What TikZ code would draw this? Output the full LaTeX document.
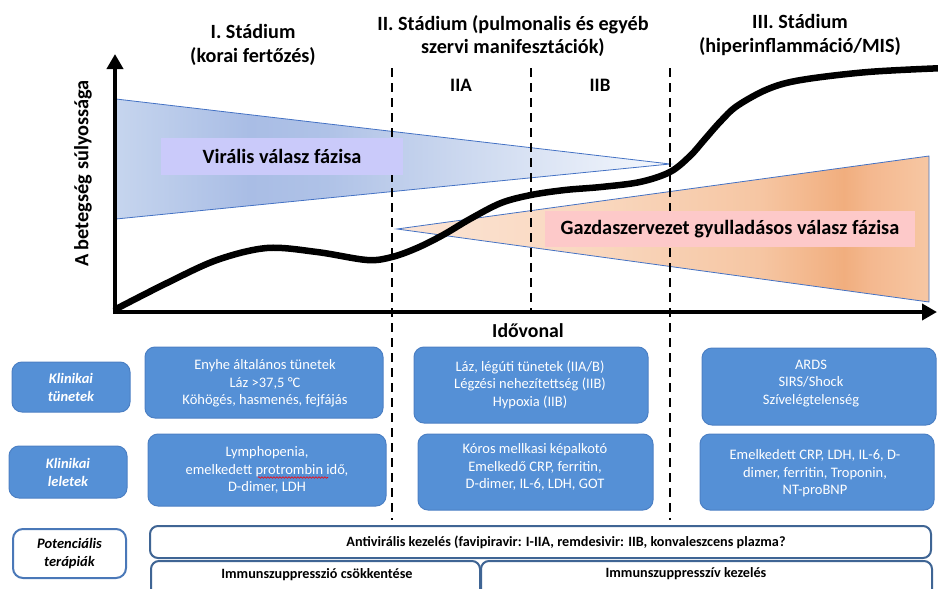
\documentclass[tikz,border=0pt]{standalone}
\usepackage{fontspec}
\setmainfont{Carlito}
\usetikzlibrary{arrows.meta,decorations.pathmorphing,calc}
\definecolor{vA}{HTML}{C6D5EE}
\definecolor{vB}{HTML}{A9BDE5}
\definecolor{vB2}{HTML}{AFC2E7}
\definecolor{vC}{HTML}{C9D6EE}
\definecolor{vD}{HTML}{F5F8FD}
\definecolor{oA}{HTML}{FBE4D5}
\definecolor{oB}{HTML}{F9D7BE}
\definecolor{oC}{HTML}{F6C6A3}
\definecolor{oD}{HTML}{F1AE7E}
\definecolor{oE}{HTML}{F4B88F}
\definecolor{oF}{HTML}{F7C7A3}
\definecolor{triedge}{HTML}{4472C4}
\definecolor{viralbox}{HTML}{CACAFA}
\definecolor{hostbox}{HTML}{FDC9C9}
\definecolor{boxblue}{HTML}{5590D6}
\definecolor{boxedge}{HTML}{4C80C4}
\definecolor{therapyedge}{HTML}{3F6594}
\definecolor{labedge}{HTML}{4A78B8}
\pgfdeclarehorizontalshading{viralshade}{100bp}{color(0bp)=(vA); color(25bp)=(vA); color(37bp)=(vB); color(44bp)=(vB2); color(55bp)=(vC); color(75bp)=(vD); color(100bp)=(vD)}
\pgfdeclarehorizontalshading{hostshade}{100bp}{color(0bp)=(oA); color(25bp)=(oA); color(44bp)=(oB); color(59bp)=(oC); color(67bp)=(oD); color(69.5bp)=(oE); color(75bp)=(oF); color(100bp)=(oF)}
\tikzset{
  head/.style={font=\bfseries\fontsize{20.2}{24}\selectfont, align=center, inner sep=0pt},
  phase/.style={font=\bfseries\fontsize{20.3}{23}\selectfont, inner sep=0pt},
  axisline/.style={line width=4pt, -{Triangle[length=15pt,width=16pt]}},
  dashline/.style={line width=2.4pt, dash pattern=on 9pt off 6pt},
  triline/.style={draw=triedge, line width=0.8pt},
  boxtext/.style={font=\fontsize{14.5}{17.5}\selectfont, text=white, align=center, inner sep=0pt},
  bluebox/.style={rounded corners=10pt, fill=boxblue, draw=boxedge, line width=1pt, inner sep=0pt},
  rowlab/.style={bluebox, text=white, align=center, font=\bfseries\itshape\fontsize{14.5}{18}\selectfont},
  whitebox/.style={rounded corners=8pt, fill=white, draw=therapyedge, line width=2pt, inner sep=0pt},
  thertext/.style={font=\bfseries\fontsize{14.2}{16}\selectfont, inner sep=0pt},
  curve/.style={line width=6.5pt, line cap=round}
}
\begin{document}
\begin{tikzpicture}[x=1pt,y=-1pt]
\useasboundingbox (0,0) rectangle (938,589);
% triangles
\shade[shading=viralshade, triline] (116,99) -- (670,164) -- (116,219) -- cycle;
\shade[shading=hostshade, triline] (397,229) -- (929,156) -- (929,302) -- cycle;
% dashed stage lines
\coordinate (d1t) at (392,68); \coordinate (d1b) at (392,520);
\coordinate (d2t) at (531,68); \coordinate (d2b) at (531,310);
\coordinate (d3t) at (670,68); \coordinate (d3b) at (670,520);
\draw[dashline] (d1t) -- (d1b);
\draw[dashline] (d2t) -- (d2b);
\draw[dashline] (d3t) -- (d3b);
% phase labels
\node[fill=viralbox, minimum width=242pt, minimum height=37pt, phase] (vir) at (282,156.5) {Virális válasz fázisa};
\node[fill=hostbox, minimum width=370pt, minimum height=36pt, phase] (host) at (730,229) {Gazdaszervezet gyulladásos válasz fázisa};
% severity curve
\draw[curve] plot[smooth, tension=0.55] coordinates {(116,309) (167,283) (217,260) (267,248) (317,252) (367,260) (392,257) (417,248) (443,235) (470,219) (501,203) (531,195) (565,190) (601,187) (640,182) (670,172) (690,156) (705,139) (720,122) (737,106) (768,89) (801,80) (868,72) (945,68)};
% axes
\coordinate (O) at (115,312);
\coordinate (ytip) at (115,54);
\coordinate (xtip) at (937,312);
\draw[axisline] ($(O)+(0,2)$) -- (ytip);
\draw[axisline] ($(O)+(-2,0)$) -- (xtip);
% headings
\node[head] (h1) at (253,44.5) {I. Stádium\\(korai fertőzés)};
\node[head, font=\bfseries\fontsize{20.2}{23}\selectfont] (h2) at (513,36.5) {II. Stádium (pulmonalis és egyéb\\szervi manifesztációk)};
\node[head] (h3) at (800,35) {III. Stádium\\(hiperinflammáció/MIS)};
\node[font=\bfseries\fontsize{19}{20}\selectfont, inner sep=0pt] (iia) at (461,85) {IIA};
\node[font=\bfseries\fontsize{19}{20}\selectfont, inner sep=0pt] (iib) at (600,85) {IIB};
\node[font=\bfseries\fontsize{20.3}{22}\selectfont, rotate=90, inner sep=0pt] (ylab) at (83,173.5) {A betegség súlyossága};
\node[font=\bfseries\fontsize{19.8}{22}\selectfont, inner sep=0pt] (xlab) at (528,331) {Idővonal};
% row labels
\node[rowlab, minimum width=118pt, minimum height=50pt] (r1) at (71,387) {Klinikai\\tünetek};
\node[rowlab, minimum width=118pt, minimum height=52pt] (r2) at (68,472) {Klinikai\\leletek};
\node[rowlab, fill=white, draw=labedge, line width=2pt, text=black, minimum width=113pt, minimum height=49pt] (r3) at (69.5,553.5) {Potenciális\\terápiák};
% clinical boxes
\node[bluebox, minimum width=238pt, minimum height=71pt] (b1) at (264,382.5) {};
\node[boxtext] (t1) at (265,383.5) {Enyhe általános tünetek\\Láz >37,5 °C\\Köhögés, hasmenés, fejfájás};
\node[bluebox, minimum width=238pt, minimum height=72pt] (b2) at (267,470) {};
\node[boxtext] (t2) at (267,470) {Lymphopenia,\\emelkedett protrombin idő,\\D-dimer, LDH};
\node[bluebox, minimum width=234pt, minimum height=76pt] (b3) at (531,385) {};
\node[boxtext] (t3) at (530,384.5) {Láz, légúti tünetek (IIA/B)\\Légzési nehezítettség (IIB)\\Hypoxia (IIB)};
\node[bluebox, minimum width=235pt, minimum height=76pt] (b4) at (535.5,472) {};
\node[boxtext] (t4) at (535,467) {Kóros mellkasi képalkotó\\Emelkedő CRP, ferritin,\\D-dimer, IL-6, LDH, GOT};
\node[bluebox, minimum width=234pt, minimum height=77pt] (b5) at (819,386.5) {};
\node[boxtext] (t5) at (811,383.5) {ARDS\\SIRS/Shock\\Szívelégtelenség};
\node[bluebox, minimum width=234pt, minimum height=76pt] (b6) at (817,472) {};
\node[boxtext] (t6) at (815,473.5) {Emelkedett CRP, LDH, IL-6, D-\\dimer, ferritin, Troponin,\\NT-proBNP};
% spell-check underline
\draw[red, line width=0.6pt, decorate, decoration={snake, amplitude=0.8pt, segment length=3pt}] (258,477.5) -- (328,477.5);
% therapies
\node[whitebox, minimum width=781pt, minimum height=32pt] (th1) at (540.5,542) {};
\node[thertext] (th1x) at (566,542) {Antivirális kezelés (favipiravir: I-IIA, remdesivir: IIB, konvaleszcens plazma?};
\node[whitebox, minimum width=329pt, minimum height=44pt, anchor=north west] (th2) at (150,560) {};
\node[whitebox, minimum width=451pt, minimum height=44pt, anchor=north west] (th3) at (480,560) {};
\node[thertext] (th2x) at (317,575) {Immunszuppresszió csökkentése};
\node[thertext] (th3x) at (686,574) {Immunszuppresszív kezelés};
\end{tikzpicture}
\end{document}
